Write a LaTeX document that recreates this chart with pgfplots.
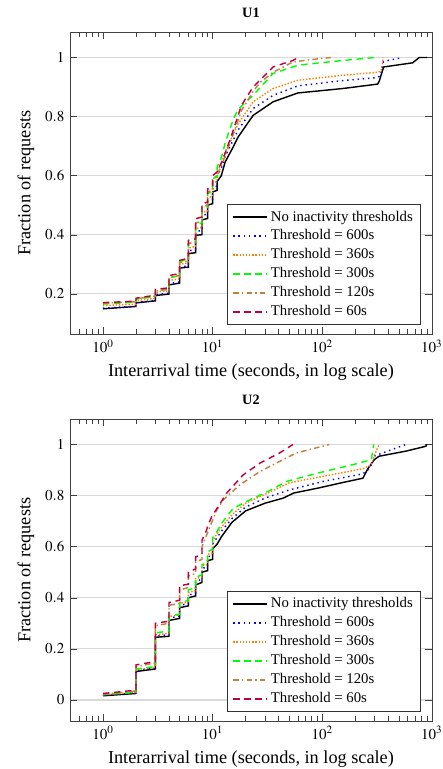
\documentclass[border=0pt]{standalone}
\usepackage{mathptmx}
\usepackage[no-math]{fontspec}
\setmainfont{Liberation Serif}
\usepackage{pgfplots}
\pgfplotsset{compat=1.18}

\tikzset{
  lnA/.style={draw=black, line width=0.9pt},
  lnB/.style={draw=blue, line width=0.9pt, dash pattern=on 0.9pt off 2.4pt},
  lnC/.style={draw=orange, line width=0.9pt, dash pattern=on 0.9pt off 1.1pt},
  lnD/.style={draw=green, line width=0.9pt, dash pattern=on 4pt off 3pt},
  lnE/.style={draw=brown, line width=0.9pt, dash pattern=on 3.5pt off 2pt on 0.9pt off 2pt},
  lnF/.style={draw=purple, line width=0.9pt, dash pattern=on 4pt off 3pt},
}

\begin{document}
\begin{tikzpicture}
\path[use as bounding box] (0,0) rectangle (278.5pt,-484.5pt);

% ---- U1 ----
\begin{axis}[
  xmode=log, scale only axis,
  width=228pt, height=190pt,
  xmin=0.5, xmax=1000,
  enlarge y limits=0.1,
  ymajorgrids, grid style={gray!30, line width=0.8pt},
  axis line style={black!75}, tick style={black!75},
  tick label style={font=\fontsize{9.5}{11}\selectfont},
  xlabel style={font=\fontsize{11.5}{13}\selectfont},
  ylabel style={font=\fontsize{11.5}{13}\selectfont},
  title style={font=\small\bfseries},
  xlabel={Interarrival time (seconds, in log scale)},
  ylabel={Fraction of requests},
  legend pos=south east, legend cell align=left,
  legend style={font=\fontsize{9.3}{11}\selectfont, draw=black!80},
  legend image code/.code={\draw[#1] (0cm,0cm) -- (0.75cm,0cm);},
  at={(44.1pt,-210.4pt)}, anchor=south west,
  title={U1}, ytick={0.2,0.4,...,1}]
\addplot[lnA] coordinates {
 (1,0.149) (2,0.157) (2,0.169) (3,0.176) (3,0.194) (4,0.199) (4,0.23)
 (5,0.236) (5,0.287) (6,0.29) (6,0.336) (7,0.339) (7,0.398) (8,0.40)
 (8,0.45) (9,0.455) (9,0.50) (10,0.505) (10,0.545) (11,0.55) (11,0.58)
 (12,0.60) (13,0.646) (15.4,0.697) (17.1,0.731) (23.4,0.804) (35.6,0.85)
 (60,0.88) (154,0.895) (320,0.91) (331,0.92) (363,0.968) (667,0.982)
 (767,1.0) (900,1.0)};
\addplot[lnB] coordinates {
 (1,0.151) (2,0.158) (2,0.17) (3,0.178) (3,0.197) (4,0.202) (4,0.235)
 (5,0.24) (5,0.29) (6,0.295) (6,0.345) (7,0.35) (7,0.41) (8,0.415)
 (8,0.465) (9,0.47) (9,0.515) (10,0.52) (10,0.56) (11,0.565) (11,0.6)
 (12,0.625) (13,0.665) (15.4,0.72) (17.1,0.755) (23.4,0.827) (35.6,0.872)
 (60,0.904) (154,0.922) (320,0.932) (340,0.94) (360,0.985) (400,0.99)
 (541,1.0)};
\addplot[lnC] coordinates {
 (1,0.16) (2,0.165) (2,0.177) (3,0.184) (3,0.205) (4,0.21) (4,0.245)
 (5,0.25) (5,0.30) (6,0.305) (6,0.355) (7,0.36) (7,0.42) (8,0.425)
 (8,0.475) (9,0.48) (9,0.525) (10,0.53) (10,0.575) (11,0.58) (11,0.615)
 (12,0.64) (13,0.68) (15.4,0.74) (17.1,0.775) (23.4,0.85) (35.6,0.895)
 (60,0.923) (154,0.94) (320,0.95) (345,0.955) (360,1.0)};
\addplot[lnD] coordinates {
 (1,0.165) (2,0.172) (2,0.182) (3,0.19) (3,0.21) (4,0.215) (4,0.255)
 (5,0.26) (5,0.31) (6,0.315) (6,0.37) (7,0.375) (7,0.435) (8,0.44)
 (8,0.49) (9,0.495) (9,0.54) (10,0.545) (10,0.59) (11,0.595) (11,0.63)
 (12,0.66) (13,0.71) (15.4,0.79) (17.1,0.825) (23.4,0.872) (35.6,0.946)
 (60,0.974) (154,0.99) (300,1.0)};
\addplot[lnE] coordinates {
 (1,0.168) (2,0.173) (2,0.183) (3,0.192) (3,0.21) (4,0.216) (4,0.255)
 (5,0.262) (5,0.305) (6,0.312) (6,0.37) (7,0.376) (7,0.44) (8,0.445)
 (8,0.495) (9,0.5) (9,0.545) (10,0.55) (10,0.59) (11,0.60) (12.5,0.65)
 (14.9,0.725) (18.3,0.82) (23.4,0.885) (27,0.915) (35.6,0.95) (54,0.985)
 (80,0.993) (120,1.0)};
\addplot[lnF] coordinates {
 (1,0.17) (2,0.175) (2,0.185) (3,0.195) (3,0.215) (4,0.22) (4,0.262)
 (5,0.268) (5,0.313) (6,0.32) (6,0.381) (7,0.386) (7,0.454) (8,0.46)
 (8,0.505) (9,0.51) (9,0.555) (10,0.562) (10,0.6) (11,0.613) (12.5,0.658)
 (14.9,0.737) (18.3,0.838) (23.4,0.90) (35.6,0.968) (54,0.99) (60,1.0)};
\legend{No inactivity thresholds, Threshold = 600s, Threshold = 360s,
  Threshold = 300s, Threshold = 120s, Threshold = 60s}
\end{axis}

% ---- U2 ----
\begin{axis}[
  xmode=log, scale only axis,
  width=228pt, height=190pt,
  xmin=0.5, xmax=1000,
  enlarge y limits=0.1,
  ymajorgrids, grid style={gray!30, line width=0.8pt},
  axis line style={black!75}, tick style={black!75},
  tick label style={font=\fontsize{9.5}{11}\selectfont},
  xlabel style={font=\fontsize{11.5}{13}\selectfont},
  ylabel style={font=\fontsize{11.5}{13}\selectfont},
  title style={font=\small\bfseries},
  xlabel={Interarrival time (seconds, in log scale)},
  ylabel={Fraction of requests},
  legend pos=south east, legend cell align=left,
  legend style={font=\fontsize{9.3}{11}\selectfont, draw=black!80},
  legend image code/.code={\draw[#1] (0cm,0cm) -- (0.75cm,0cm);},
  at={(44.1pt,-454.2pt)}, anchor=south west,
  title={U2}, ytick={0,0.2,...,1}]
\addplot[lnA] coordinates {
 (1,0.016) (2,0.025) (2,0.111) (3,0.121) (3,0.245) (4,0.249) (4,0.311)
 (5,0.319) (5,0.361) (6,0.368) (6,0.40) (7,0.407) (7,0.45) (8,0.46)
 (8,0.50) (9,0.506) (9,0.545) (10,0.55) (10,0.592) (11,0.61) (12,0.638)
 (15,0.695) (20,0.74) (30,0.77) (44,0.79) (55,0.81) (91,0.829) (150,0.85)
 (235,0.868) (260,0.905) (299,0.941) (330,0.954) (580,0.974) (881,0.993)
 (900,1.0)};
\addplot[lnB] coordinates {
 (1,0.018) (2,0.027) (2,0.115) (3,0.125) (3,0.25) (4,0.255) (4,0.32)
 (5,0.328) (5,0.37) (6,0.377) (6,0.41) (7,0.418) (7,0.465) (8,0.472)
 (8,0.515) (9,0.52) (9,0.56) (10,0.565) (10,0.61) (12,0.66) (15,0.71)
 (20,0.755) (30,0.79) (50,0.822) (101,0.855) (235,0.885) (260,0.90)
 (290,0.93) (300,0.955) (400,0.975) (580,1.0)};
\addplot[lnC] coordinates {
 (1,0.02) (2,0.03) (2,0.118) (3,0.128) (3,0.255) (4,0.26) (4,0.325)
 (5,0.333) (5,0.378) (6,0.385) (6,0.42) (7,0.428) (7,0.475) (8,0.482)
 (8,0.525) (9,0.53) (9,0.57) (10,0.575) (10,0.625) (12,0.675) (15,0.725)
 (20,0.77) (30,0.805) (50,0.85) (101,0.875) (235,0.905) (280,0.92)
 (300,0.96) (330,1.0)};
\addplot[lnD] coordinates {
 (1,0.02) (2,0.03) (2,0.121) (3,0.13) (3,0.262) (4,0.27) (4,0.328)
 (5,0.335) (5,0.381) (6,0.39) (6,0.43) (7,0.44) (7,0.48) (8,0.49)
 (8,0.53) (9,0.535) (9,0.58) (10,0.59) (10,0.635) (10.9,0.657) (12,0.69)
 (15.4,0.75) (21.8,0.783) (32,0.816) (47,0.855) (91,0.888) (190,0.921)
 (280,0.94) (295,1.0)};
\addplot[lnE] coordinates {
 (1,0.022) (2,0.035) (2,0.13) (3,0.145) (3,0.29) (4,0.3) (4,0.37)
 (5,0.378) (5,0.43) (6,0.44) (6,0.485) (7,0.495) (7,0.54) (8,0.55)
 (8,0.6) (9.5,0.68) (10.9,0.743) (12.5,0.783) (17.7,0.842) (27,0.894)
 (41,0.934) (58,0.967) (116,1.0)};
\addplot[lnF] coordinates {
 (1,0.025) (2,0.038) (2,0.137) (3,0.15) (3,0.30) (4,0.308) (4,0.381)
 (5,0.39) (5,0.447) (6,0.453) (6,0.50) (7,0.513) (7,0.56) (8,0.57)
 (8,0.625) (8.8,0.664) (9,0.68) (9.8,0.717) (11.7,0.769) (13.4,0.809)
 (19,0.881) (27,0.927) (40.9,0.967) (54,1.0)};
\legend{No inactivity thresholds, Threshold = 600s, Threshold = 360s,
  Threshold = 300s, Threshold = 120s, Threshold = 60s}
\end{axis}
\end{tikzpicture}
\end{document}
